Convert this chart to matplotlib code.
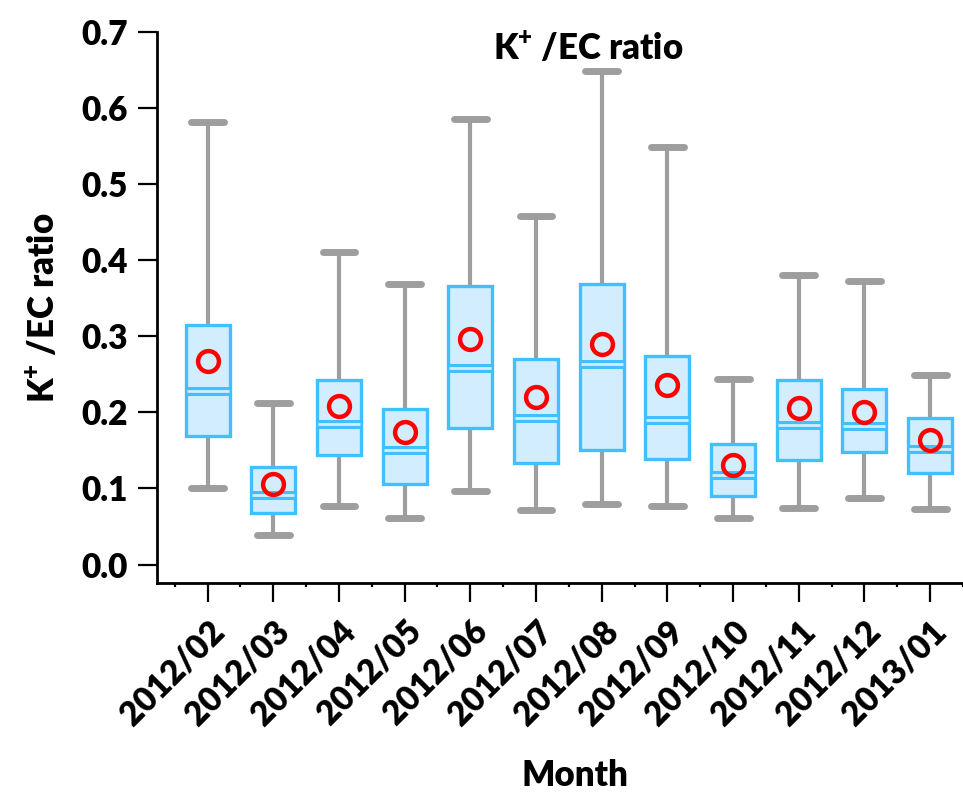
import matplotlib
matplotlib.use("Agg")
import matplotlib.pyplot as plt

plt.rcParams['font.family'] = ['Lato', 'DejaVu Sans']
plt.rcParams['font.weight'] = 'heavy'
plt.rcParams['mathtext.fontset'] = 'custom'
plt.rcParams['mathtext.rm'] = 'Lato:heavy'
plt.rcParams['mathtext.bf'] = 'Lato:heavy'
plt.rcParams['mathtext.default'] = 'bf'

# Valores (estatísticas de cada caixa)
meses = ['2012/02', '2012/03', '2012/04', '2012/05', '2012/06', '2012/07',
         '2012/08', '2012/09', '2012/10', '2012/11', '2012/12', '2013/01']
bigode_inf = [0.100, 0.039, 0.077, 0.061, 0.096, 0.072, 0.079, 0.077, 0.061, 0.074, 0.088, 0.073]
q1 = [0.169, 0.068, 0.144, 0.106, 0.179, 0.133, 0.151, 0.138, 0.090, 0.137, 0.148, 0.120]
mediana = [0.228, 0.092, 0.185, 0.151, 0.258, 0.192, 0.263, 0.190, 0.118, 0.183, 0.182, 0.152]
q3 = [0.315, 0.128, 0.243, 0.204, 0.366, 0.270, 0.368, 0.274, 0.158, 0.242, 0.231, 0.192]
bigode_sup = [0.582, 0.212, 0.411, 0.368, 0.585, 0.458, 0.649, 0.549, 0.244, 0.381, 0.373, 0.249]
media = [0.268, 0.106, 0.208, 0.174, 0.296, 0.220, 0.290, 0.236, 0.131, 0.206, 0.201, 0.164]

cor_borda = '#40C0FF'
cor_fundo = '#D2EEFE'
cor_bigode = '#9E9E9E'

stats = []
for i in range(len(meses)):
    stats.append({'whislo': bigode_inf[i], 'q1': q1[i], 'med': mediana[i],
                  'q3': q3[i], 'whishi': bigode_sup[i], 'mean': media[i],
                  'fliers': [], 'label': meses[i]})

fig = plt.figure(figsize=(9.63, 7.94), dpi=100)
ax = fig.add_axes([0.163, 0.266, 0.837, 0.694])

pos = list(range(len(meses)))
ax.bxp(stats, positions=pos, widths=0.67, patch_artist=True, showmeans=True,
       showcaps=True, showfliers=False,
       boxprops=dict(facecolor=cor_fundo, edgecolor=cor_borda, linewidth=2.4, zorder=3),
       medianprops=dict(color=cor_borda, linewidth=6.5, solid_capstyle='butt', zorder=4),
       whiskerprops=dict(color=cor_bigode, linewidth=3, zorder=2),
       capprops=dict(color=cor_bigode, linewidth=5, solid_capstyle='round', zorder=2),
       meanprops=dict(marker='o', markerfacecolor='none', markeredgecolor='#FF0000',
                      markersize=15, markeredgewidth=3.2, zorder=5),
       capwidths=0.5)
# linha clara no meio da mediana (caixa dupla)
ax.hlines(mediana, [p - 0.32 for p in pos], [p + 0.32 for p in pos],
          color=cor_fundo, linewidth=2, zorder=4.5)

ax.set_xlim(-0.77, 11.35)
ax.set_ylim(-0.024, 0.7)
ax.set_yticks([0.0, 0.1, 0.2, 0.3, 0.4, 0.5, 0.6, 0.7])
ax.set_yticklabels(['0.0', '0.1', '0.2', '0.3', '0.4', '0.5', '0.6', '0.7'])
ax.set_xticks(pos)
ax.set_xticklabels(meses, rotation=45, ha='right', va='top', rotation_mode='anchor')
ax.set_xticks([p - 0.5 for p in pos] + [11.5], minor=True)

for s in ['top', 'right']:
    ax.spines[s].set_visible(False)
for s in ['left', 'bottom']:
    ax.spines[s].set_linewidth(2)

ax.tick_params(axis='both', which='major', length=14, width=1.6, labelsize=24, direction='out')
ax.tick_params(axis='y', which='major', pad=7)
ax.tick_params(axis='x', which='major', pad=9)
ax.tick_params(axis='x', which='minor', length=3, width=1.6, direction='out')

ax.set_xlabel('Month', fontsize=25, fontweight='heavy')
ax.xaxis.set_label_coords(0.519, -0.32)
ax.set_ylabel(r'K$^{+}$ /EC ratio', fontsize=25, fontweight='heavy')
ax.yaxis.set_label_coords(-0.12, 0.5)

ax.text(0.535, 0.949, r'K$^{+}$ /EC ratio', transform=ax.transAxes, ha='center', va='baseline',
        fontsize=25, fontweight='heavy')

fig.savefig('out.png', dpi=100)
